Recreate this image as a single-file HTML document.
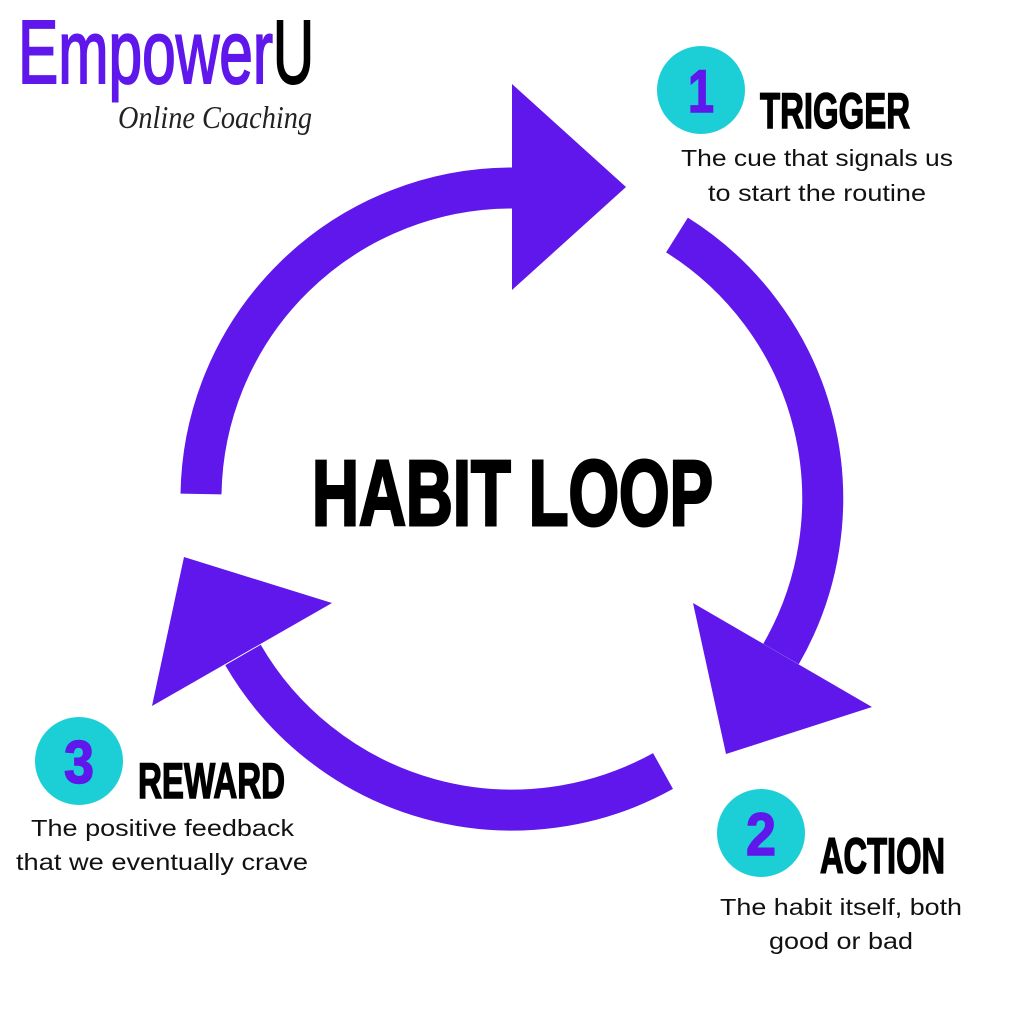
<!DOCTYPE html>
<html><head><meta charset="utf-8"><style>
html,body{margin:0;padding:0;background:#fff}
svg{display:block}
</style></head><body>
<svg width="1024" height="1024" viewBox="0 0 1024 1024" xmlns="http://www.w3.org/2000/svg">
<rect width="1024" height="1024" fill="#fff"/>
<g fill="none" stroke="#5f17eb" stroke-width="41">
<path d="M 201 494 A 311 311 0 0 1 512 188"/>
<path d="M 677 235 A 311 311 0 0 1 781 654"/>
<path d="M 663 771 A 311 311 0 0 1 243 655"/>
</g>
<g fill="#5f17eb">
<polygon points="512,84 512,290 626,187"/>
<polygon points="693,603 872,707 726,754"/>
<polygon points="184,557 332,603 152,706"/>
</g>
<!-- Logo -->
<text x="18" y="83" font-family="Liberation Sans, sans-serif" font-size="90" fill="#5f17eb" stroke="#5f17eb" stroke-width="2" textLength="255" lengthAdjust="spacingAndGlyphs">Empower</text>
<text x="273" y="83" font-family="Liberation Sans, sans-serif" font-size="90" fill="#000" stroke="#000" stroke-width="2" textLength="41" lengthAdjust="spacingAndGlyphs">U</text>
<text x="118" y="128" font-family="Liberation Serif, serif" font-style="italic" font-size="32" fill="#222" textLength="194" lengthAdjust="spacingAndGlyphs">Online Coaching</text>
<!-- Center title -->
<text x="312" y="525" font-family="Liberation Sans, sans-serif" font-weight="bold" font-size="93" fill="#000" stroke="#000" stroke-width="3" textLength="401" lengthAdjust="spacingAndGlyphs">HABIT LOOP</text>
<!-- Badges -->
<g fill="#1ccfd6">
<circle cx="701" cy="90" r="44"/>
<circle cx="761" cy="833" r="44"/>
<circle cx="79" cy="761" r="44"/>
</g>
<g font-family="Liberation Sans, sans-serif" font-weight="bold" font-size="60" fill="#5f17eb" stroke="#5f17eb" stroke-width="1.5" text-anchor="middle">
<text x="701" y="112" textLength="26" lengthAdjust="spacingAndGlyphs">1</text>
<text x="761" y="855" textLength="30" lengthAdjust="spacingAndGlyphs">2</text>
<text x="79" y="783" textLength="30" lengthAdjust="spacingAndGlyphs">3</text>
</g>
<g font-family="Liberation Sans, sans-serif" font-weight="bold" font-size="50" fill="#000" stroke="#000" stroke-width="1.5">
<text x="760" y="128" textLength="150" lengthAdjust="spacingAndGlyphs">TRIGGER</text>
<text x="820" y="873" textLength="125" lengthAdjust="spacingAndGlyphs">ACTION</text>
<text x="138" y="798" textLength="147" lengthAdjust="spacingAndGlyphs">REWARD</text>
</g>
<g font-family="Liberation Sans, sans-serif" font-size="23" fill="#111">
<text x="681" y="166" textLength="272" lengthAdjust="spacingAndGlyphs">The cue that signals us</text>
<text x="708" y="201" textLength="218" lengthAdjust="spacingAndGlyphs">to start the routine</text>
<text x="720" y="915" textLength="242" lengthAdjust="spacingAndGlyphs">The habit itself, both</text>
<text x="769" y="949" textLength="144" lengthAdjust="spacingAndGlyphs">good or bad</text>
<text x="31" y="836" textLength="263" lengthAdjust="spacingAndGlyphs">The positive feedback</text>
<text x="16" y="870" textLength="292" lengthAdjust="spacingAndGlyphs">that we eventually crave</text>
</g>
</svg>
</body></html>
